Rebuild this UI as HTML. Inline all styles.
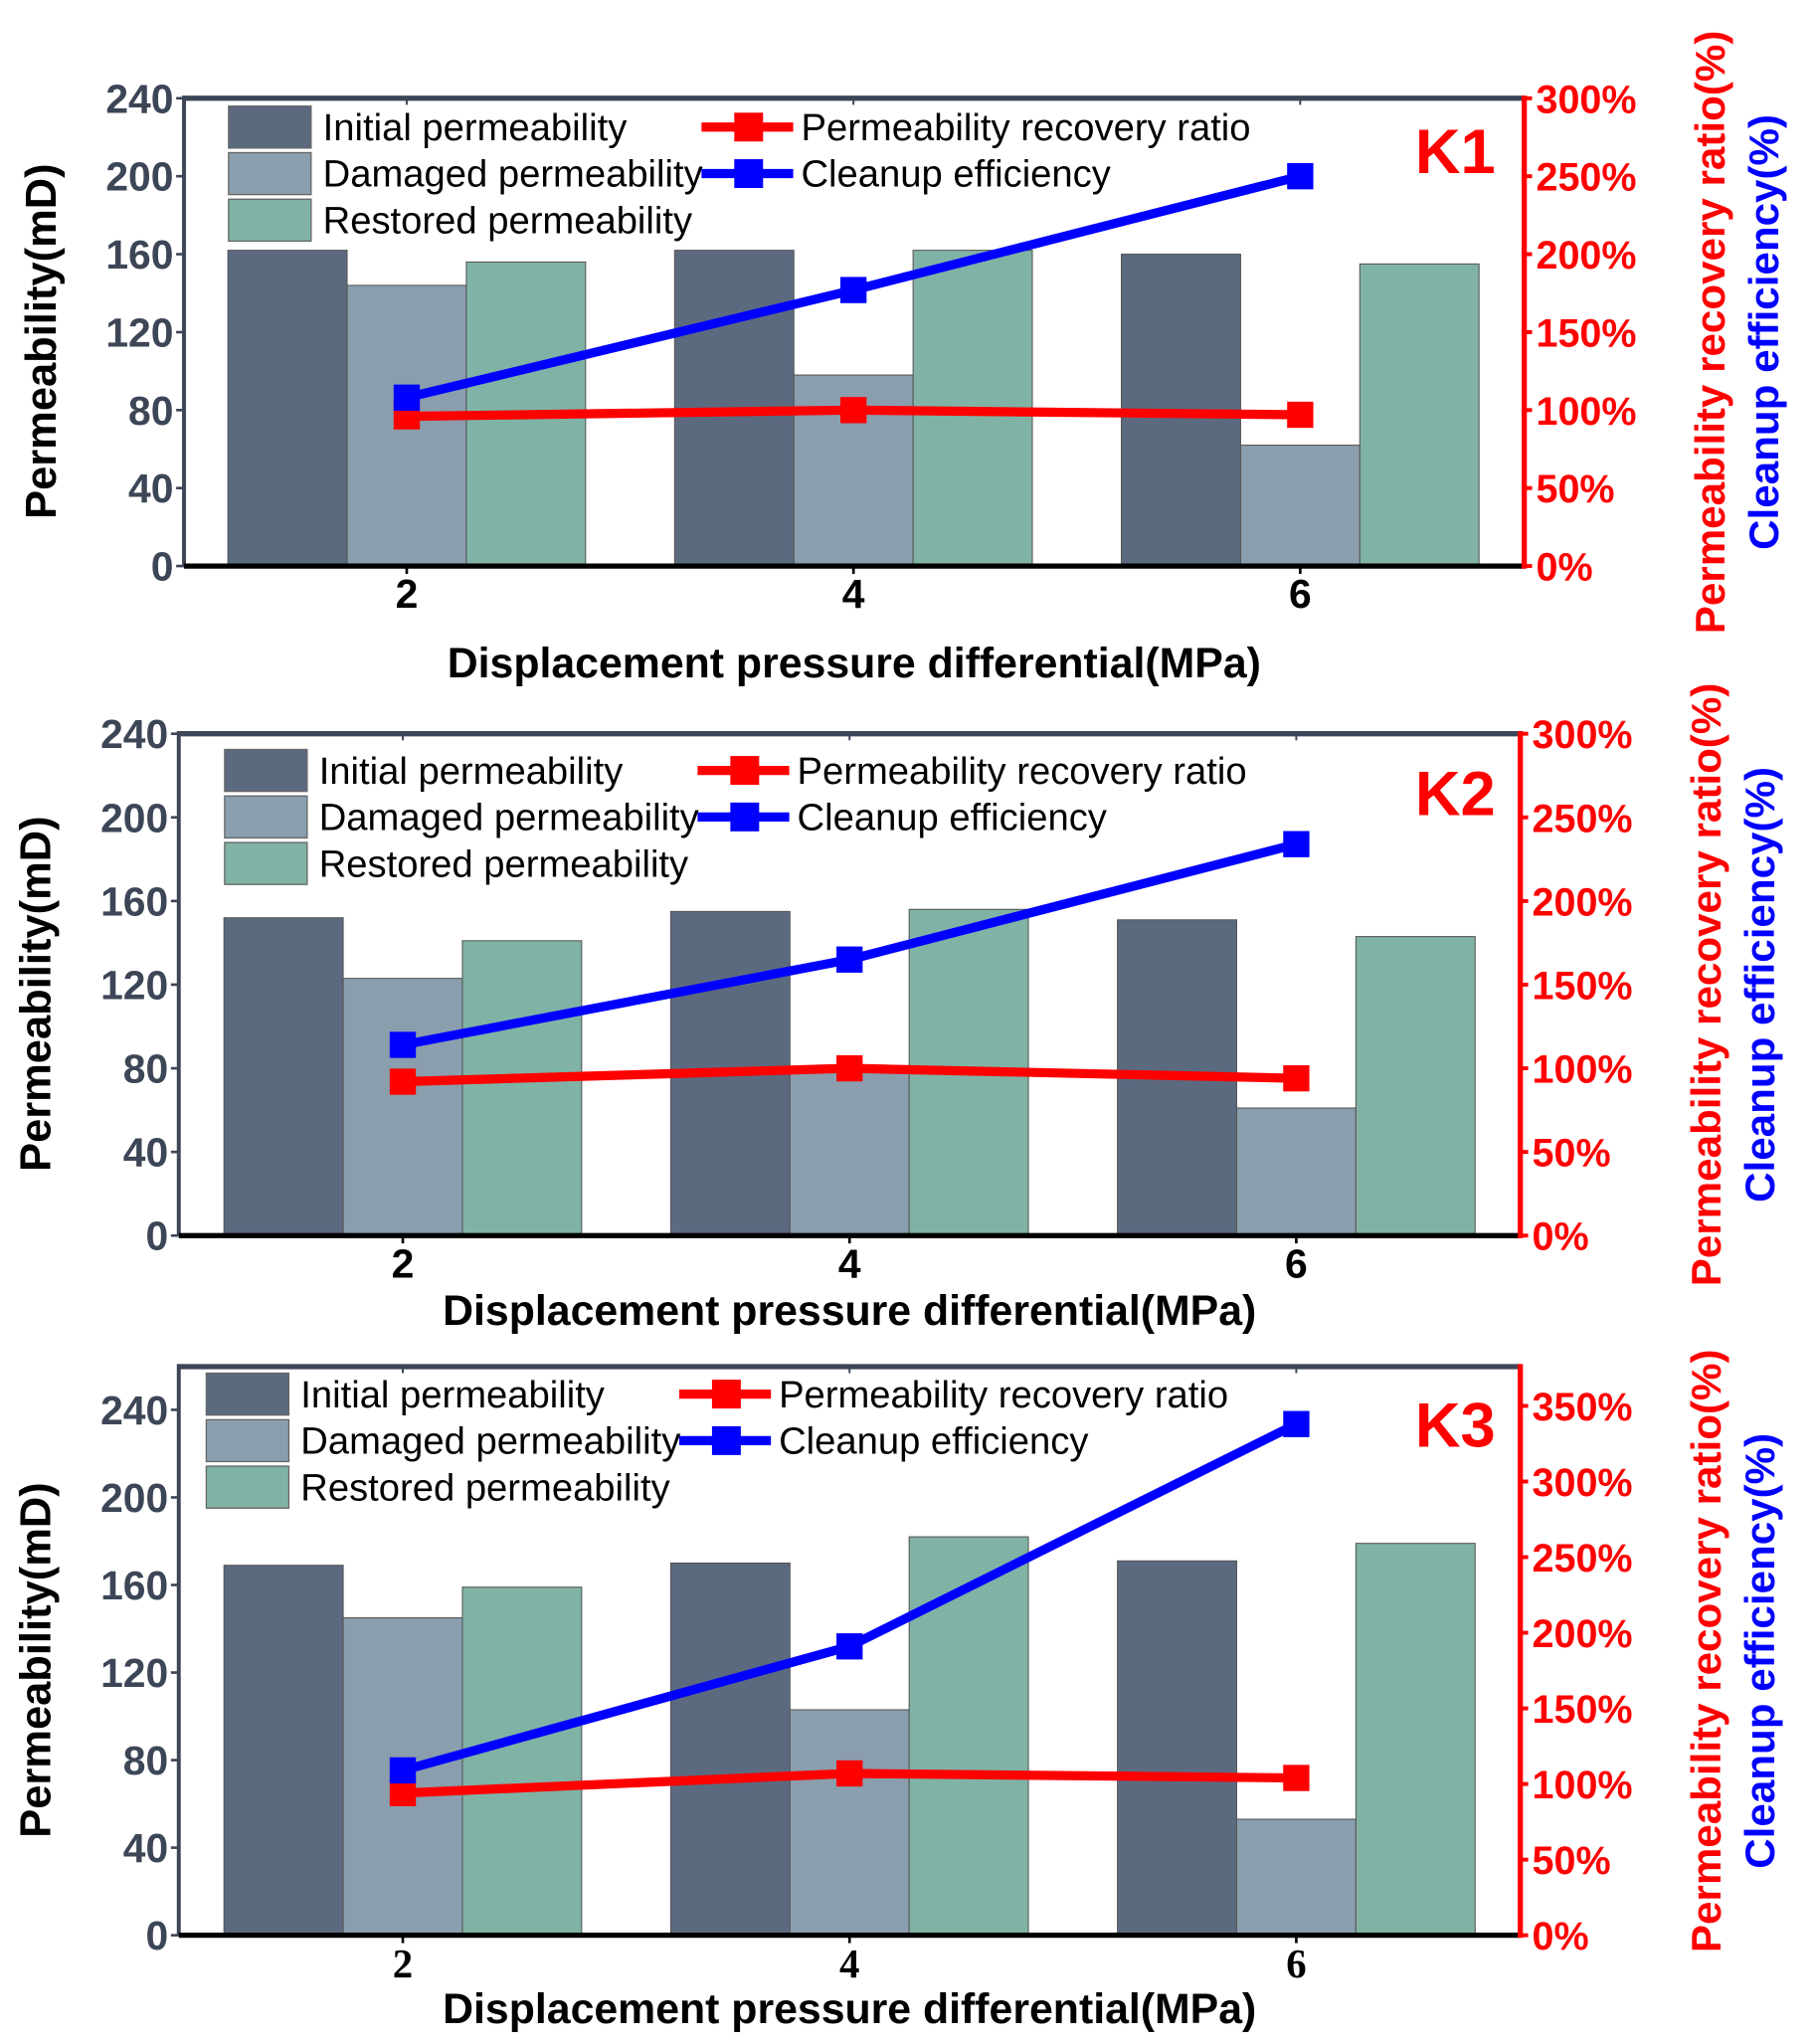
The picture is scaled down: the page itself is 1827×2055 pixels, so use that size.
<!DOCTYPE html>
<html><head><meta charset="utf-8"><style>
html,body{margin:0;padding:0;background:#fff;}
svg{display:block;font-family:"Liberation Sans",Arial,sans-serif;}
</style></head><body>
<svg id="chart" width="1827" height="2055" viewBox="0 0 1386 1560" xmlns="http://www.w3.org/2000/svg"></svg>
<script>
const categories = [2, 4, 6];
const k1Initial = [162, 162, 160];
const k1Damaged = [144, 98, 62];
const k1Restored = [156, 162, 155];
const k1Recovery = [96, 100, 97];
const k1Cleanup = [108, 177, 250];
const k2Initial = [152, 155, 151];
const k2Damaged = [123, 80, 61];
const k2Restored = [141, 156, 143];
const k2Recovery = [92, 100, 94];
const k2Cleanup = [114, 165, 234];
const k3Initial = [169, 170, 171];
const k3Damaged = [145, 103, 53];
const k3Restored = [159, 182, 179];
const k3Recovery = [94, 107, 104];
const k3Cleanup = [109, 191, 338];
const leftTicks = [0, 40, 80, 120, 160, 200, 240];
const rightTicks12 = [0, 50, 100, 150, 200, 250, 300];
const rightTicks3 = [0, 50, 100, 150, 200, 250, 300, 350];

const NS = "http://www.w3.org/2000/svg";
const svg = document.getElementById('chart');
function mk(tag, attrs, parent, text) {
  const e = document.createElementNS(NS, tag);
  for (const k in attrs) e.setAttribute(k, attrs[k]);
  if (text !== undefined) e.textContent = text;
  (parent || svg).appendChild(e);
  return e;
}
const COL = ['#5c6a80', '#8a9eae', '#80b3a6'];
const AX = '#3d4656';

function panel(p) {
  const g = mk('g', {});
  
  
  const yL = v => p.bottom - v * (p.bottom - p.y240) / 240;
  const yR = v => p.bottom - v * (p.bottom - p.yRmax) / p.rMax;
  const xC = c => p.x2 + (c - 2) * (p.x4 - p.x2) / 2;
  const frame = mk('rect', {x: p.left, y: p.top, width: p.right - p.left, height: p.bottom - p.top, fill: '#fff', stroke: 'none'}, g);
  
  
  const series = [p.initial, p.damaged, p.restored];
  const bw = 91;
  categories.forEach((c, i) => {
    series.forEach((s, j) => {
      const x = xC(c) + (j - 1.5) * bw;
      const b = mk('rect', {x: x, y: yL(s[i]), width: bw, height: p.bottom - yL(s[i]), fill: COL[j], stroke: '#555', 'stroke-width': 0.8}, g);
      
      
    });
  });
  mk('line', {x1: p.left, y1: p.top, x2: p.right, y2: p.top, stroke: AX, 'stroke-width': 4}, g);
  const la = mk('line', {x1: p.left, y1: p.top - 2, x2: p.left, y2: p.bottom, stroke: AX, 'stroke-width': 3}, g);
  
  
  const ba = mk('line', {x1: p.left, y1: p.bottom, x2: p.right, y2: p.bottom, stroke: '#000', 'stroke-width': 4}, g);
  
  
  const ra = mk('line', {x1: p.right, y1: p.top - 2, x2: p.right, y2: p.bottom + 2, stroke: '#f00', 'stroke-width': 4}, g);
  
  
  leftTicks.forEach(t => {
    mk('line', {x1: p.left - 6, y1: yL(t), x2: p.left, y2: yL(t), stroke: AX, 'stroke-width': 2}, g);
    const tl = mk('text', {x: p.left - 8, y: yL(t) + 11, 'text-anchor': 'end', 'font-size': 31, 'font-weight': 'bold', fill: AX}, g, String(t));
    
    
  });
  p.rTicks.forEach(t => {
    mk('line', {x1: p.right, y1: yR(t), x2: p.right + 6, y2: yR(t), stroke: '#f00', 'stroke-width': 3}, g);
    const tl = mk('text', {x: p.right + 9, y: yR(t) + 11, 'font-size': 30, 'font-weight': 'bold', fill: '#f00'}, g, t + '%');
    
    
  });
  categories.forEach(c => {
    mk('line', {x1: xC(c), y1: p.top, x2: xC(c), y2: p.top + 5, stroke: AX, 'stroke-width': 1.5}, g);
    mk('line', {x1: xC(c), y1: p.bottom, x2: xC(c), y2: p.bottom + 6, stroke: '#000', 'stroke-width': 2}, g);
    const tl = mk('text', {x: xC(c), y: p.bottom + 32, 'text-anchor': 'middle', 'font-size': 31, 'font-weight': 'bold', fill: '#000', 'font-family': p.serifTicks ? '"Liberation Serif",serif' : '"Liberation Sans",sans-serif'}, g, String(c));
    
    
  });
  [[p.recovery, '#f00', 'recovery'], [p.cleanup, '#00f', 'cleanup']].forEach(([s, col, nm]) => {
    const pts = categories.map((c, i) => xC(c) + ',' + yR(s[i])).join(' ');
    const l = mk('polyline', {points: pts, fill: 'none', stroke: col, 'stroke-width': 7}, g);
    
    
    categories.forEach((c, i) => {
      const m = mk('rect', {x: xC(c) - 10, y: yR(s[i]) - 10, width: 20, height: 20, fill: col}, g);
      
      
    });
  });
  const names = ['Initial permeability', 'Damaged permeability', 'Restored permeability'];
  names.forEach((n, j) => {
    const y0 = p.legTop + j * 35.5;
    const r = mk('rect', {x: p.legX, y: y0, width: 63, height: 32, fill: COL[j], stroke: '#666', 'stroke-width': 1}, g);
    
    
    const t = mk('text', {x: p.legX + 72, y: y0 + 26, 'font-size': 29, fill: '#000'}, g, n);
    
    
  });
  [['Permeability recovery ratio', '#f00'], ['Cleanup efficiency', '#00f']].forEach(([n, col], j) => {
    const yc = p.legTop + 16 + j * 35.5;
    const lx = p.legX + 361;
    mk('line', {x1: lx, y1: yc, x2: lx + 70, y2: yc, stroke: col, 'stroke-width': 7}, g);
    mk('rect', {x: lx + 25, y: yc - 11, width: 22, height: 22, fill: col}, g);
    const t = mk('text', {x: lx + 76, y: yc + 10, 'font-size': 29, fill: '#000'}, g, n);
    
    
  });
  const kl = mk('text', {x: 1141, y: p.kY, 'text-anchor': 'end', 'font-size': 48, 'font-weight': 'bold', fill: '#f00'}, g, p.label);
  
  
  const mid = (p.top + p.bottom) / 2;
  const yt = mk('text', {x: 0, y: 0, transform: 'translate(' + (p.left - 98) + ',' + (mid + 7) + ') rotate(-90)', 'text-anchor': 'middle', 'font-size': 33, 'font-weight': 'bold', fill: '#000'}, g, 'Permeability(mD)');
  
  
  const rt = mk('text', {x: 0, y: 0, transform: 'translate(' + (p.right + 153) + ',' + (mid + 0) + ') rotate(-90)', 'text-anchor': 'middle', 'font-size': 32, 'font-weight': 'bold', fill: '#f00'}, g, 'Permeability recovery ratio(%)');
  
  
  const bt = mk('text', {x: 0, y: 0, transform: 'translate(' + (p.right + 194) + ',' + (mid + 0) + ') rotate(-90)', 'text-anchor': 'middle', 'font-size': 32, 'font-weight': 'bold', fill: '#00f'}, g, 'Cleanup efficiency(%)');
  
  
  const xt = mk('text', {x: (p.left + p.right) / 2, y: p.xTitleY, 'text-anchor': 'middle', 'font-size': 32.5, 'font-weight': 'bold', fill: '#000'}, g, 'Displacement pressure differential(MPa)');
  
  
}

panel({label: 'K1', left: 140, right: 1163, top: 75, bottom: 432, y240: 75, yRmax: 75, rMax: 300, x2: 310, x4: 651,
  initial: k1Initial, damaged: k1Damaged, restored: k1Restored, recovery: k1Recovery, cleanup: k1Cleanup,
  rTicks: rightTicks12, legX: 174, legTop: 81, kY: 132, xTitleY: 517});
panel({label: 'K2', left: 136, right: 1160, top: 560, bottom: 943, y240: 560, yRmax: 560, rMax: 300, x2: 307, x4: 648,
  initial: k2Initial, damaged: k2Damaged, restored: k2Restored, recovery: k2Recovery, cleanup: k2Cleanup,
  rTicks: rightTicks12, legX: 171, legTop: 572, kY: 622, xTitleY: 1011});
panel({label: 'K3', left: 136, right: 1160, top: 1043, bottom: 1477, y240: 1076, yRmax: 1073, rMax: 350, x2: 307, x4: 648,
  initial: k3Initial, damaged: k3Damaged, restored: k3Restored, recovery: k3Recovery, cleanup: k3Cleanup,
  rTicks: rightTicks3, legX: 157, legTop: 1048, kY: 1104, xTitleY: 1544, serifTicks: true});
</script>
</body></html>
